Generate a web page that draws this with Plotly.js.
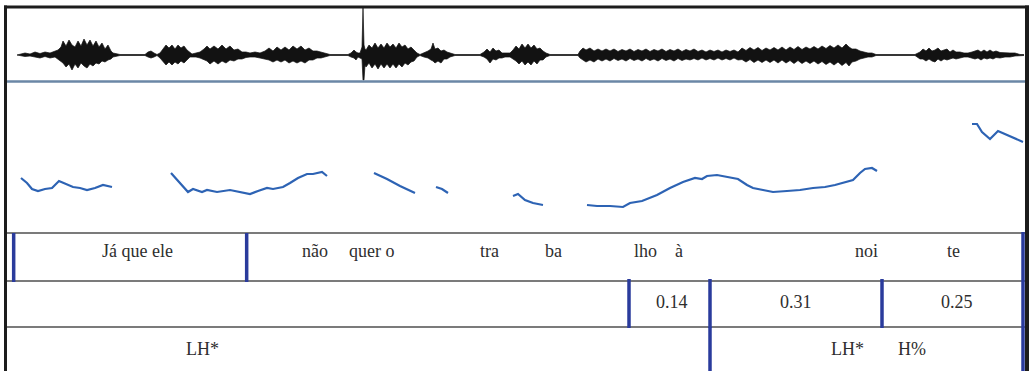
<!DOCTYPE html>
<html>
<head>
<meta charset="utf-8">
<script src="https://cdn.plot.ly/plotly-3.0.1.min.js"></script>
<style>
html,body{margin:0;padding:0;background:#fff;}
#chart{width:1029px;height:371px;}
</style>
</head>
<body>
<div id="chart"></div>
<script>
// ---- Waveform envelope (time in ms, amplitude normalised) ----
const waveT = [
  30,39,54,69,84,99,114,129,144,153,
  162,168,177,186,195,204,213,222,231,240,
  249,258,267,276,285,294,303,312,318,339,
  369,399,414,423,432,441,450,459,468,477,
  486,495,504,513,522,531,540,549,555,567,
  579,591,600,609,621,633,645,657,669,681,
  693,705,717,729,744,759,774,786,798,810,
  822,834,846,858,870,882,894,906,918,930,
  942,954,969,999,1023,1032,1041,1047,1053,1059,
  1065,1068,1071,1074,1077,1086,1095,1104,1113,1122,
  1131,1140,1149,1158,1167,1176,1185,1194,1203,1212,
  1221,1230,1239,1251,1263,1272,1278,1284,1293,1302,
  1311,1320,1329,1344,1374,1404,1419,1431,1440,1449,
  1458,1467,1476,1485,1494,1509,1518,1527,1536,1545,
  1554,1563,1572,1581,1590,1599,1608,1617,1629,1659,
  1689,1713,1719,1728,1737,1749,1761,1773,1785,1797,
  1809,1821,1833,1845,1857,1869,1881,1893,1905,1917,
  1929,1941,1953,1965,1977,1989,2001,2013,2025,2037,
  2049,2061,2073,2085,2097,2109,2121,2133,2145,2157,
  2169,2181,2193,2205,2217,2229,2241,2253,2265,2277,
  2289,2301,2313,2325,2337,2349,2361,2373,2385,2397,
  2409,2421,2433,2445,2457,2469,2481,2493,2505,2517,
  2526,2535,2547,2559,2571,2583,2595,2607,2634,2679,
  2724,2739,2748,2757,2766,2775,2784,2793,2802,2811,
  2820,2829,2838,2847,2859,2871,2883,2895,2904,2913,
  2922,2931,2940,2949,2958,2967,2979,2994,3009,3024,
  3039,3051
];
const waveMax = [
  0,0.01,0.04,0.02,0.06,0.03,0.06,0.04,0.08,0.10,
  0.16,0.28,0.18,0.30,0.20,0.16,0.28,0.18,0.32,0.20,
  0.30,0.18,0.28,0.16,0.24,0.12,0.20,0.08,0.04,0.01,
  0.01,0.01,0.01,0.06,0.08,0.04,0.01,0.04,0.12,0.20,
  0.14,0.20,0.12,0.20,0.14,0.18,0.10,0.04,0.02,0.04,
  0.06,0.12,0.18,0.12,0.18,0.12,0.20,0.12,0.18,0.10,
  0.12,0.06,0.06,0.04,0.06,0.04,0.08,0.14,0.08,0.16,
  0.10,0.16,0.10,0.18,0.12,0.18,0.10,0.14,0.08,0.08,
  0.06,0.04,0.01,0.01,0.01,0.04,0.10,0.06,0.04,0.04,
  0.16,0.94,0.20,0.12,0.10,0.20,0.14,0.24,0.14,0.22,
  0.14,0.24,0.16,0.22,0.14,0.24,0.16,0.20,0.12,0.16,
  0.10,0.04,0.01,0.04,0.08,0.12,0.24,0.12,0.14,0.08,
  0.10,0.06,0.04,0.01,0.01,0.01,0.01,0.06,0.12,0.06,
  0.14,0.08,0.10,0.04,0.04,0.04,0.10,0.18,0.12,0.22,
  0.14,0.22,0.14,0.20,0.12,0.14,0.08,0.04,0.01,0.01,
  0.01,0.01,0.08,0.14,0.10,0.14,0.08,0.12,0.08,0.12,
  0.08,0.12,0.07,0.11,0.08,0.12,0.07,0.11,0.08,0.12,
  0.07,0.11,0.08,0.12,0.07,0.11,0.08,0.12,0.07,0.11,
  0.08,0.12,0.07,0.10,0.06,0.10,0.07,0.10,0.06,0.10,
  0.07,0.10,0.06,0.14,0.09,0.15,0.10,0.15,0.09,0.14,
  0.10,0.15,0.10,0.16,0.10,0.16,0.11,0.17,0.11,0.16,
  0.12,0.17,0.12,0.18,0.13,0.19,0.14,0.20,0.14,0.22,
  0.16,0.12,0.12,0.08,0.06,0.04,0.04,0.01,0.01,0.01,
  0.01,0.06,0.12,0.08,0.14,0.08,0.10,0.14,0.08,0.10,
  0.12,0.06,0.10,0.06,0.06,0.04,0.04,0.06,0.08,0.10,
  0.06,0.10,0.06,0.10,0.06,0.08,0.05,0.04,0.04,0.04,
  0.01,0.01
];
const waveMin = [
  0,-0.01,-0.03,-0.02,-0.04,-0.06,-0.03,-0.06,-0.04,-0.08,
  -0.12,-0.16,-0.24,-0.18,-0.30,-0.18,-0.26,-0.16,-0.22,-0.26,
  -0.18,-0.22,-0.16,-0.18,-0.12,-0.14,-0.10,-0.08,-0.04,-0.01,
  -0.01,-0.01,-0.01,-0.04,-0.06,-0.04,-0.01,-0.06,-0.12,-0.20,
  -0.14,-0.20,-0.14,-0.18,-0.12,-0.16,-0.10,-0.04,-0.04,-0.04,
  -0.06,-0.10,-0.12,-0.18,-0.12,-0.18,-0.12,-0.16,-0.10,-0.12,
  -0.08,-0.08,-0.05,-0.04,-0.04,-0.06,-0.08,-0.10,-0.14,-0.10,
  -0.14,-0.10,-0.16,-0.12,-0.16,-0.12,-0.16,-0.10,-0.10,-0.06,
  -0.06,-0.04,-0.01,-0.01,-0.01,-0.04,-0.06,-0.10,-0.04,-0.06,
  -0.08,-0.50,-0.50,-0.20,-0.24,-0.16,-0.26,-0.18,-0.28,-0.18,
  -0.26,-0.18,-0.26,-0.18,-0.26,-0.18,-0.24,-0.16,-0.20,-0.14,
  -0.12,-0.04,-0.01,-0.04,-0.06,-0.10,-0.12,-0.16,-0.12,-0.16,
  -0.08,-0.08,-0.04,-0.01,-0.01,-0.01,-0.01,-0.04,-0.08,-0.16,
  -0.08,-0.10,-0.06,-0.06,-0.04,-0.04,-0.08,-0.12,-0.18,-0.12,
  -0.20,-0.14,-0.20,-0.12,-0.18,-0.10,-0.10,-0.04,-0.01,-0.01,
  -0.01,-0.01,-0.06,-0.10,-0.14,-0.10,-0.14,-0.08,-0.12,-0.08,
  -0.12,-0.07,-0.11,-0.08,-0.12,-0.07,-0.11,-0.08,-0.12,-0.07,
  -0.11,-0.08,-0.12,-0.07,-0.11,-0.08,-0.12,-0.07,-0.11,-0.08,
  -0.10,-0.07,-0.10,-0.06,-0.10,-0.07,-0.10,-0.06,-0.10,-0.07,
  -0.10,-0.06,-0.10,-0.09,-0.14,-0.09,-0.15,-0.10,-0.15,-0.10,
  -0.15,-0.10,-0.16,-0.10,-0.16,-0.11,-0.17,-0.11,-0.17,-0.12,
  -0.17,-0.12,-0.18,-0.13,-0.19,-0.14,-0.20,-0.14,-0.21,-0.15,
  -0.22,-0.14,-0.12,-0.08,-0.06,-0.04,-0.04,-0.01,-0.01,-0.01,
  -0.01,-0.08,-0.08,-0.12,-0.08,-0.12,-0.14,-0.08,-0.12,-0.08,
  -0.10,-0.08,-0.06,-0.08,-0.06,-0.04,-0.04,-0.06,-0.08,-0.06,
  -0.10,-0.06,-0.08,-0.06,-0.08,-0.05,-0.06,-0.04,-0.04,-0.02,
  -0.01,-0.01
];

// ---- Pitch contour (time in ms, F0 in Hz; null = unvoiced gap) ----
const pitchT = [
  42,60,75,93,114,135,156,180,198,219,240,264,288,315, null,
  492,519,543,558,585,600,630,669,699,729,753,780,798,828,849,873,900,918,945,960, null,
  1101,1140,1179,1224, null,
  1287,1305,1323, null,
  1518,1533,1554,1578,1608, null,
  1740,1770,1809,1848,1869,1905,1950,1989,2028,2064,2085,2100,2130,2160,2193,2220,2238,2268,2298,2340,2379,2418,2454,2484,2508,2538,2559,2574,2595,2610, null,
  2895,2910,2925,2949,2973,3000,3024,3048
];
const pitchHz = [
  183,173,161,157,161,163,177,171,165,163,159,163,169,165, null,
  193,173,155,161,155,159,155,159,155,151,157,163,161,165,173,183,191,191,195,187, null,
  193,181,167,153, null,
  165,161,153, null,
  147,151,139,133,129, null,
  129,127,127,125,133,137,149,163,175,183,181,187,189,185,181,169,163,159,155,157,159,163,165,169,173,179,193,201,203,197, null,
  291,291,275,261,277,269,263,255
];

// ---- TextGrid tiers ----
const tier1Labels = ["Já que ele","não","quer o","tra","ba","lho","à","noi","te"];
const tier1Times  = [390,924,1092,1446,1638,1914,2016,2577,2838];
const tier1Bounds = [20,719];
const tier2Labels = ["0.14","0.31","0.25"];
const tier2Times  = [1995,2367,2850];
const tier2Bounds = [1866,2109,2625];
const tier3Labels = ["LH*","LH*","H%"];
const tier3Times  = [585,2520,2715];
const tier3Bounds = [2109];
const endBound = 3048;

const W = 1029, H = 371;
const py = p => 1 - p / H;   // pixel row -> paper fraction
const pxp = p => p / W;      // pixel column -> paper fraction

const traces = [
  {x: waveT, y: waveMax, xaxis:'x', yaxis:'y', mode:'lines', line:{color:'#121212', width:0.7}, hoverinfo:'skip'},
  {x: waveT, y: waveMin, xaxis:'x', yaxis:'y', mode:'lines', line:{color:'#121212', width:0.7},
   fill:'tonexty', fillcolor:'#121212', hoverinfo:'skip'},
  {x: pitchT, y: pitchHz, xaxis:'x', yaxis:'y2', mode:'lines', connectgaps:false,
   line:{color:'#2d63b4', width:2.2}, hoverinfo:'skip'}
];

const shapes = [];
const line = (x0,y0,x1,y1,color,width,xref) => shapes.push({type:'line', xref:xref||'paper', yref:'paper',
  x0:x0, y0:y0, x1:x1, y1:y1, line:{color:color, width:width}});

// waveform bottom separator
line(pxp(7), py(81.5), pxp(1025), py(81.5), '#6b87a6', 2.5);
// tier separators
[233, 281, 327].forEach(r => line(pxp(7), py(r), pxp(1025), py(r), '#7b7b7b', 2));
// tier boundaries
const blue = '#2a3b9c';
tier1Bounds.forEach(t => line(t, py(233), t, py(282), blue, 3.5, 'x'));
tier2Bounds.forEach(t => line(t, py(279), t, py(328), blue, 3.5, 'x'));
tier3Bounds.forEach(t => line(t, py(327), t, 0, blue, 3.5, 'x'));
line(endBound, py(232), endBound, 0, blue, 3.5, 'x');
// frame
line(pxp(5.5), 0, pxp(5.5), py(5.5), '#1c1c1c', 3);
line(pxp(4), py(7), pxp(1029), py(7), '#1c1c1c', 3);
line(pxp(1027), 0, pxp(1027), py(5.5), '#1c1c1c', 4);

const annotations = [];
const font = {family:'Liberation Serif, Times New Roman, serif', size:18, color:'#2e2e2e'};
const addTier = (labels, times, row) => labels.forEach((s,i) => annotations.push({
  text:s, x:times[i], xref:'x', y:py(row), yref:'paper', xanchor:'center', yanchor:'middle',
  showarrow:false, font:font}));
addTier(tier1Labels, tier1Times, 251);
addTier(tier2Labels, tier2Times, 302);
addTier(tier3Labels, tier3Times, 349);

const layout = {
  width: W, height: H,
  margin:{l:0, r:0, t:0, b:0, pad:0},
  paper_bgcolor:'#ffffff', plot_bgcolor:'rgba(0,0,0,0)',
  showlegend:false,
  font:{family:'Liberation Serif, serif'},
  xaxis:{range:[-21,3066], domain:[0,1], visible:false, fixedrange:true},
  yaxis:{domain:[py(81), py(8)], range:[-0.52,0.94], visible:false, fixedrange:true},
  yaxis2:{domain:[py(232), py(82)], range:[75,375], visible:false, fixedrange:true},
  shapes: shapes,
  annotations: annotations
};

Plotly.newPlot('chart', traces, layout, {staticPlot:true, displayModeBar:false});
</script>
</body>
</html>
